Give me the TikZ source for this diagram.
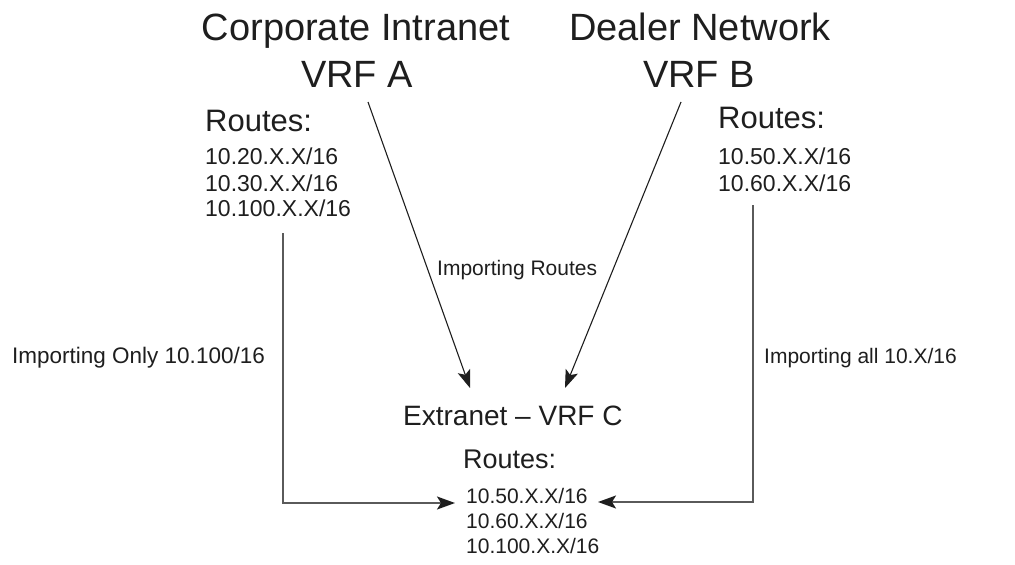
\documentclass[tikz,border=0pt]{standalone}
\usepackage{fontspec}
\setmainfont{Liberation Sans}
\usetikzlibrary{arrows.meta}
\definecolor{ink}{HTML}{1E1E1E}
\definecolor{gline}{HTML}{5A5A5A}
\tikzset{
  fs/.style={font=\fontsize{#1}{#1}\selectfont},
  txt/.style={inner sep=0pt, text=ink},
  big/.style={txt, fs=38, anchor=base},
  rhead/.style={txt, fs=31, anchor=base west},
  rline/.style={txt, fs=23, anchor=base west},
  lbl/.style={txt, fs=21, anchor=base west},
  diag/.style={draw=ink, line width=1.1pt, -{Stealth[length=18pt,width=13pt,inset=4pt]}},
  elbow/.style={draw=gline, line width=1.8pt, arrows={-{Stealth[length=18pt,width=13pt,inset=4pt,color=ink]}}}
}
\begin{document}
\begin{tikzpicture}[x=1pt,y=-1pt]
\useasboundingbox (0,0) rectangle (1015,565);
% titles
\node[big] (ci) at (356,40) {Corporate Intranet};
\node[big] (va) at (357,87) {VRF A};
\node[big] (dn) at (700,40) {Dealer Network};
\node[big] (vb) at (699,87) {VRF B};
% left routes
\node[rhead] (ra) at (205,131) {Routes:};
\node[rline] (ra1) at (205,164) {10.20.X.X/16};
\node[rline] (ra2) at (205,191) {10.30.X.X/16};
\node[rline] (ra3) at (205,216) {10.100.X.X/16};
% right routes
\node[rhead] (rb) at (718,128) {Routes:};
\node[rline] (rb1) at (718,164) {10.50.X.X/16};
\node[rline] (rb2) at (718,191) {10.60.X.X/16};
% extranet
\node[txt, fs=28, anchor=base west] (ex) at (403,425) {Extranet – VRF C};
\node[txt, fs=27, anchor=base west] (rc) at (463,468) {Routes:};
\node[txt, fs=21, anchor=base west] (rc1) at (466,503) {10.50.X.X/16};
\node[txt, fs=21, anchor=base west] (rc2) at (466,528) {10.60.X.X/16};
\node[txt, fs=21, anchor=base west] (rc3) at (466,553) {10.100.X.X/16};
% labels
\node[lbl] (lr) at (437,275) {Importing Routes};
\node[txt, fs=22.5, anchor=base west] (lo) at (12,363) {Importing Only 10.100/16};
\node[lbl] (la) at (764,363) {Importing all 10.X/16};
% connector end points
\coordinate (as) at (368,102);
\coordinate (ae) at (470,388);
\coordinate (bs) at (681,102);
\coordinate (be) at (565,388);
\coordinate (ls) at (283,233);
\coordinate (lc) at (283,503);
\coordinate (le) at (455,503);
\coordinate (rs) at (753,205);
\coordinate (rcn) at (753,502);
\coordinate (re) at (598,502);
% connectors
\draw[diag] (as) -- (ae);
\draw[diag] (bs) -- (be);
\draw[elbow] (ls) -- (lc) -- (le);
\draw[elbow] (rs) -- (rcn) -- (re);
\end{tikzpicture}
\end{document}
